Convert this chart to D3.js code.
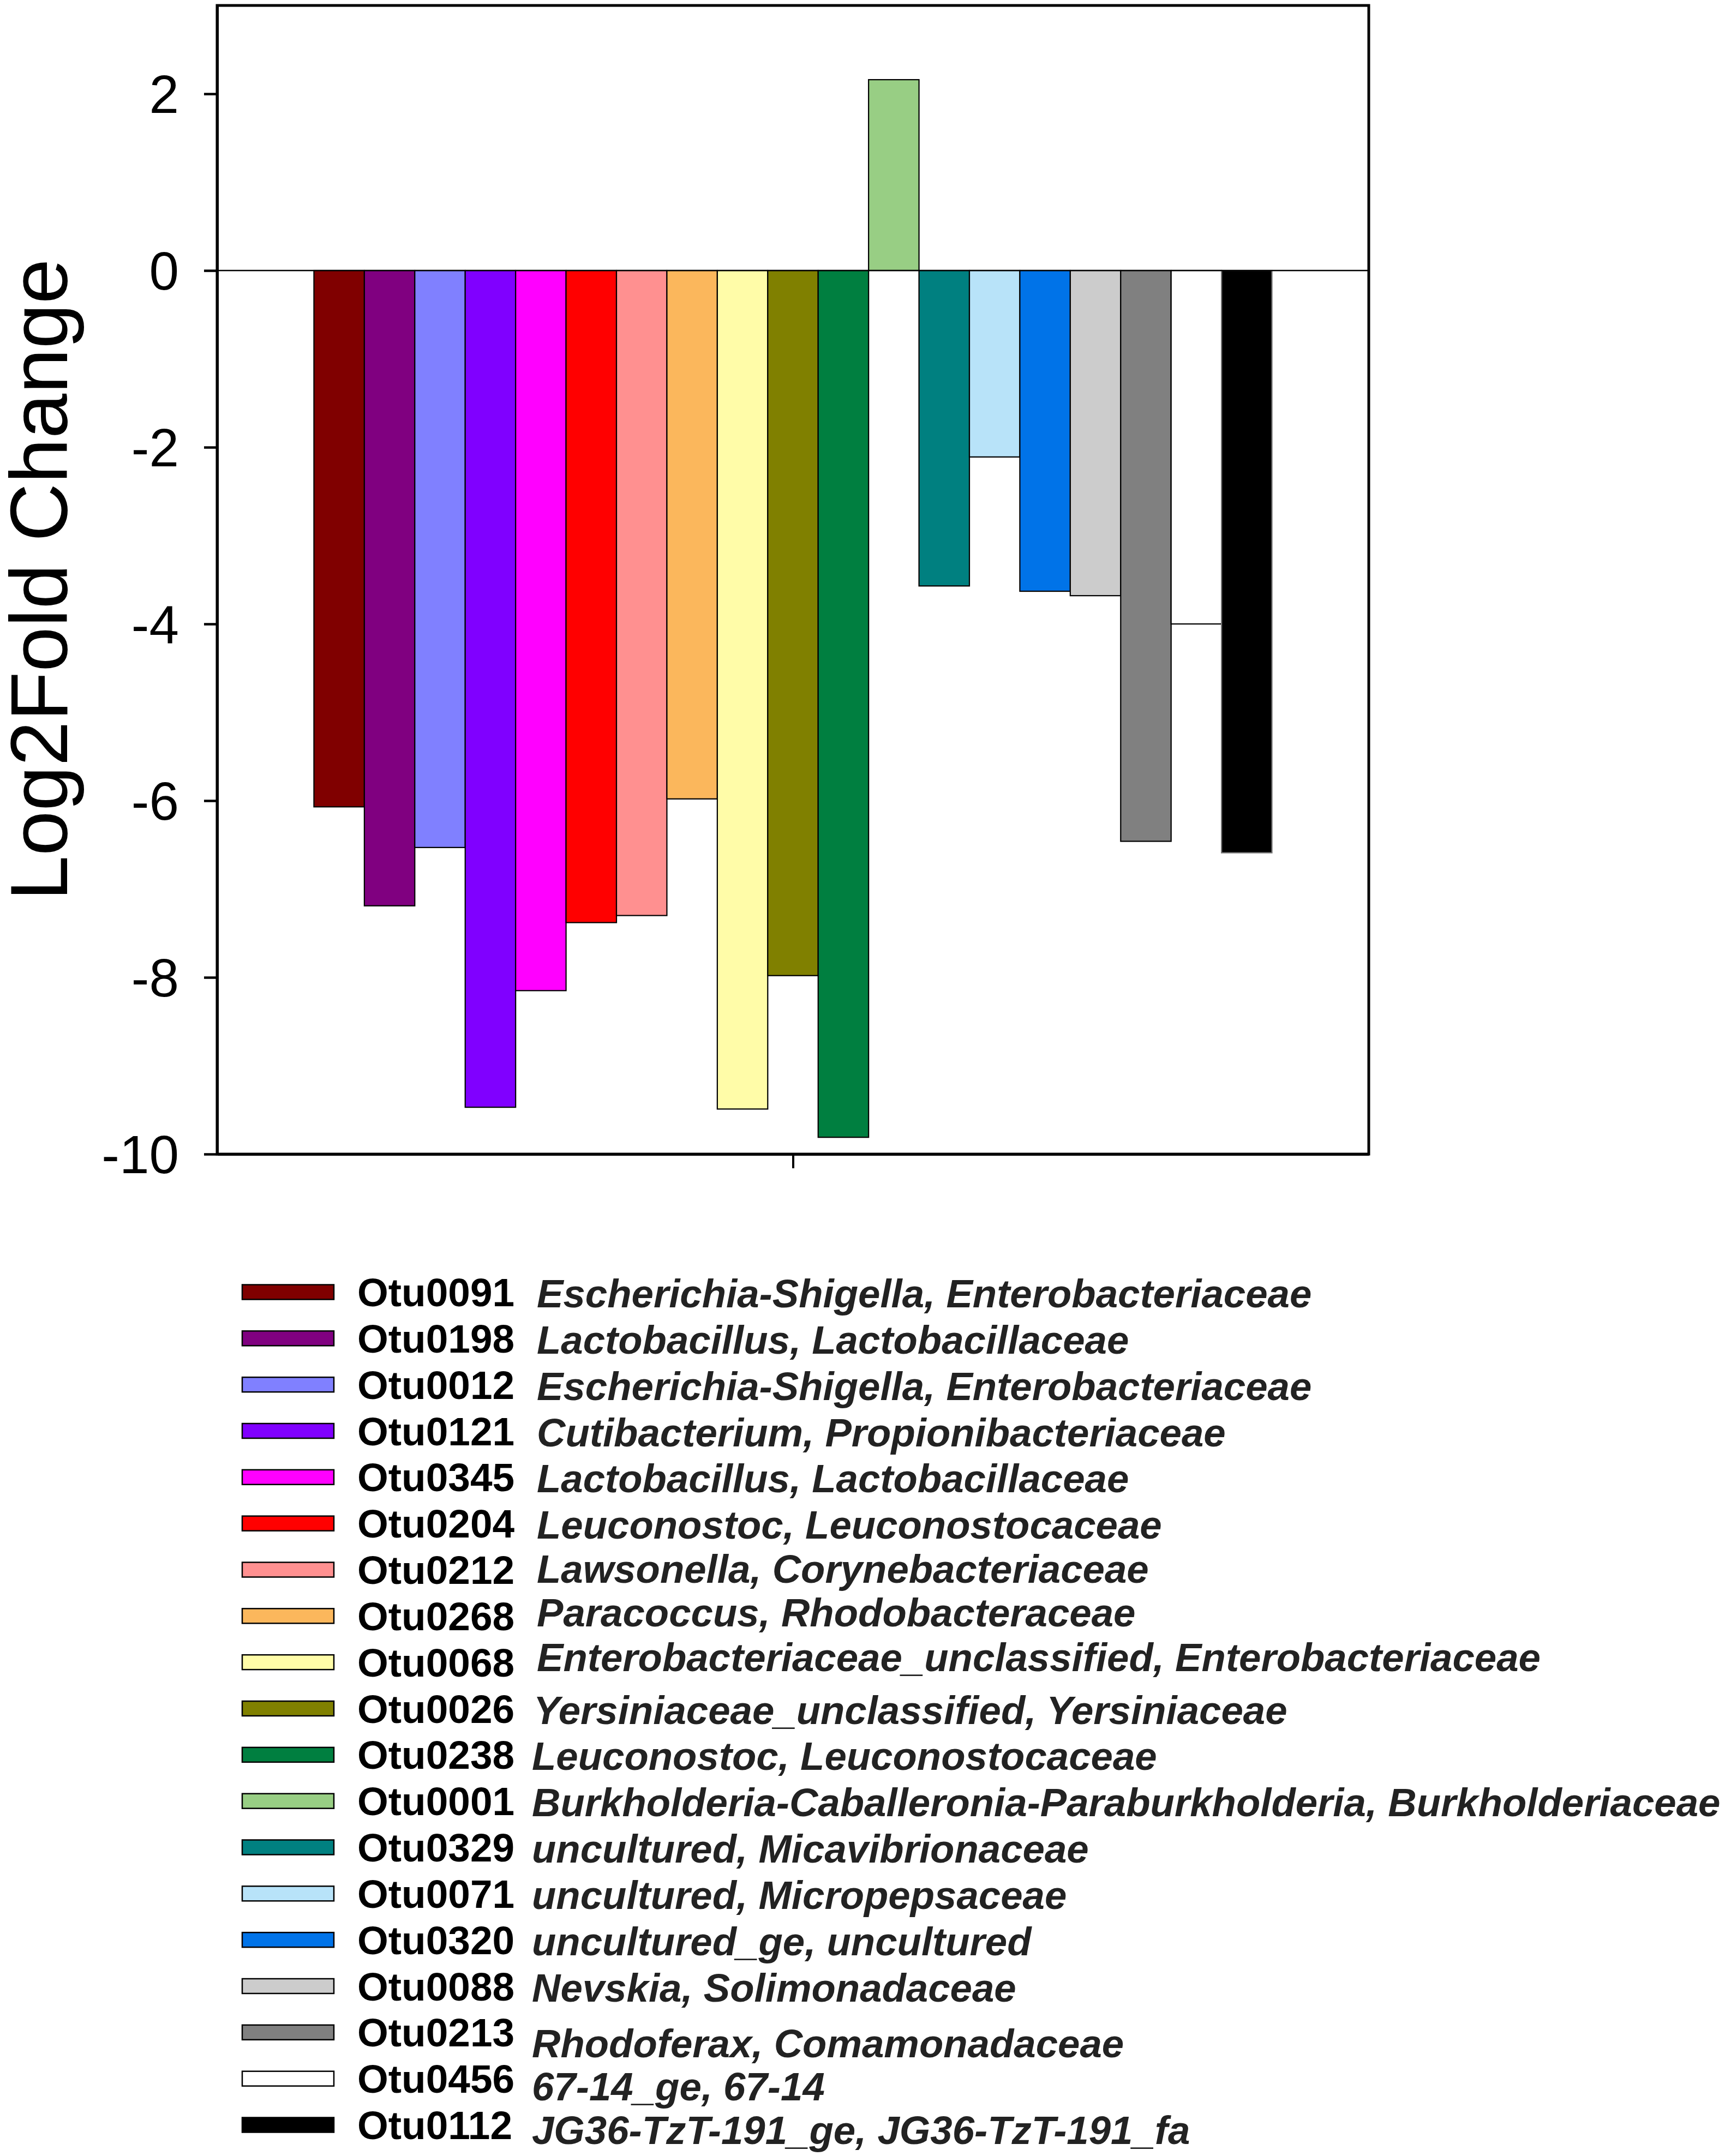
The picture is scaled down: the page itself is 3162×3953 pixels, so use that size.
<!DOCTYPE html>
<html>
<head>
<meta charset="utf-8">
<script src="https://cdn.jsdelivr.net/npm/d3@7"></script>
<style>
  html, body { margin: 0; padding: 0; background: #fff; }
  svg { display: block; }
</style>
</head>
<body>
<script>
// ---- Data ----
const otus = ["Otu0091","Otu0198","Otu0012","Otu0121","Otu0345","Otu0204","Otu0212","Otu0268","Otu0068","Otu0026","Otu0238","Otu0001","Otu0329","Otu0071","Otu0320","Otu0088","Otu0213","Otu0456","Otu0112"];
const taxa = [
  "Escherichia-Shigella, Enterobacteriaceae",
  "Lactobacillus, Lactobacillaceae",
  "Escherichia-Shigella, Enterobacteriaceae",
  "Cutibacterium, Propionibacteriaceae",
  "Lactobacillus, Lactobacillaceae",
  "Leuconostoc, Leuconostocaceae",
  "Lawsonella, Corynebacteriaceae",
  "Paracoccus, Rhodobacteraceae",
  "Enterobacteriaceae_unclassified, Enterobacteriaceae",
  "Yersiniaceae_unclassified, Yersiniaceae",
  "Leuconostoc, Leuconostocaceae",
  "Burkholderia-Caballeronia-Paraburkholderia, Burkholderiaceae",
  "uncultured, Micavibrionaceae",
  "uncultured, Micropepsaceae",
  "uncultured_ge, uncultured",
  "Nevskia, Solimonadaceae",
  "Rhodoferax, Comamonadaceae",
  "67-14_ge, 67-14",
  "JG36-TzT-191_ge, JG36-TzT-191_fa"
];
const log2fc = [-6.07,-7.19,-6.53,-9.47,-8.15,-7.38,-7.30,-5.98,-9.49,-7.98,-9.81,2.16,-3.57,-2.11,-3.63,-3.68,-6.46,-4.00,-6.59];
const colors = ["#800000","#800080","#8080FF","#8000FF","#FF00FF","#FF0000","#FF9090","#FBB75C","#FFFCA8","#808000","#007F40","#98CE84","#008080","#B8E3F9","#0073E8","#CCCCCC","#808080","#FFFFFF","#000000"];
const yTicks = [2,0,-2,-4,-6,-8,-10];
const yDomain = [-10,3];
const yTitle = "Log2Fold Change";

// ---- Layout ----
const W = 3162, H = 3953;
const plot = {left: 398, right: 2509, top: 10, bottom: 2116};
const FONT = "'Liberation Sans', Arial, Helvetica, sans-serif";

const svg = d3.select("body").append("svg")
  .attr("width", W).attr("height", H)
  .attr("viewBox", `0 0 ${W} ${H}`);
svg.append("rect").attr("width", W).attr("height", H).attr("fill", "#fff");

const y = d3.scaleLinear().domain(yDomain).range([plot.bottom, plot.top]);
const x = d3.scaleBand().domain(otus).range([plot.left, plot.right])
  .paddingInner(0).paddingOuter(1.92);

const data = otus.map((o, i) => ({otu: o, taxon: taxa[i], v: log2fc[i], c: colors[i]}));

// bars
svg.append("g").selectAll("rect").data(data).join("rect")
  .attr("x", d => x(d.otu))
  .attr("width", x.bandwidth())
  .attr("y", d => y(Math.max(0, d.v)))
  .attr("height", d => Math.abs(y(d.v) - y(0)))
  .attr("fill", d => d.c)
  .attr("stroke", d => d.c === "#000000" ? "#777" : "#000")
  .attr("stroke-width", 2.2);

// zero line
svg.append("line")
  .attr("x1", plot.left).attr("x2", plot.right)
  .attr("y1", y(0)).attr("y2", y(0))
  .attr("stroke", "#000").attr("stroke-width", 2.5);

// frame
svg.append("rect")
  .attr("x", plot.left).attr("y", plot.top)
  .attr("width", plot.right - plot.left).attr("height", plot.bottom - plot.top)
  .attr("fill", "none").attr("stroke", "#000").attr("stroke-width", 5);

// y axis
const yAxis = d3.axisLeft(y).tickValues(yTicks).tickSize(24).tickSizeOuter(0).tickPadding(46)
  .tickFormat(d => String(d));
const gy = svg.append("g").attr("transform", `translate(${plot.left},0)`).call(yAxis);
gy.select(".domain").attr("stroke-width", 5);
gy.selectAll(".tick line").attr("stroke-width", 4.5);
gy.selectAll(".tick text")
  .attr("font-family", FONT).attr("font-size", 98).attr("fill", "#000")
  .attr("dy", "0.35em");

// x axis (single centered tick)
const xMid = d3.scalePoint().domain(["group"]).range([plot.left, plot.right]).padding(0.5);
const xAxis = d3.axisBottom(xMid).tickSize(26).tickSizeOuter(0).tickFormat("");
const gx = svg.append("g").attr("transform", `translate(0,${plot.bottom})`).call(xAxis);
gx.select(".domain").attr("stroke-width", 5);
gx.selectAll(".tick line").attr("stroke-width", 4);

// y title
svg.append("text")
  .attr("transform", `translate(123,${(plot.top + plot.bottom) / 2}) rotate(-90)`)
  .attr("text-anchor", "middle")
  .attr("font-family", FONT).attr("font-size", 148).attr("fill", "#000")
  .text(yTitle);

// ---- Legend ----
const ly = d3.scalePoint().domain(otus).range([2369, 3896]);
const nameDy = [2,2,2,2,2,2,-2,-7,-10,2,2,2,2,2,2,2,20,14,9];
const leg = svg.append("g");
const rows = leg.selectAll("g").data(data).join("g")
  .attr("transform", d => `translate(0,${ly(d.otu)})`);
rows.append("rect")
  .attr("x", 444).attr("y", -13.5).attr("width", 168).attr("height", 27)
  .attr("fill", d => d.c).attr("stroke", "#000").attr("stroke-width", 2.5);
rows.append("text")
  .attr("x", 655).attr("y", 26)
  .attr("font-family", FONT).attr("font-weight", "bold").attr("font-size", 73)
  .attr("fill", "#000")
  .text(d => d.otu);
rows.append("text")
  .attr("x", (d, i) => i < 9 ? 984 : (i === 9 ? 978 : 975))
  .attr("y", (d, i) => 26 + nameDy[i])
  .attr("font-family", FONT).attr("font-weight", "bold").attr("font-style", "italic")
  .attr("font-size", 72.6).attr("fill", "#222")
  .text(d => d.taxon);
</script>
</body>
</html>
